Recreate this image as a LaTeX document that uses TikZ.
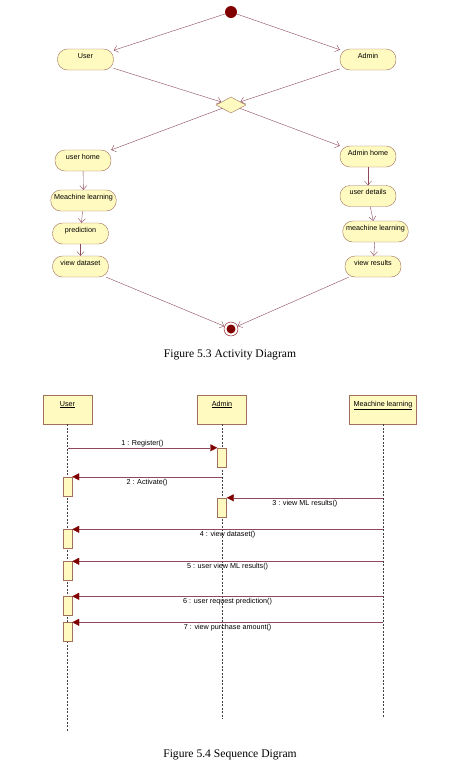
\documentclass[tikz,border=0pt]{standalone}
\usepackage{fontspec}
\setmainfont{Liberation Serif}
\setsansfont{Liberation Sans}
\usetikzlibrary{positioning,shapes.geometric,arrows.meta}
\definecolor{umlfill}{HTML}{FFFAC0}
\definecolor{umlline}{HTML}{A0705A}
\definecolor{flowline}{HTML}{8C4A5A}
\definecolor{headred}{HTML}{800000}

\begin{document}
\begin{tikzpicture}
  [x=1pt,y=-1pt,font=\sffamily\fontsize{7.2}{8}\selectfont,
   act/.style={rectangle,rounded corners=10pt,draw=umlline,fill=umlfill,minimum width=56pt,inner ysep=0pt,text height=9pt,text depth=12pt},
   flow/.style={draw=flowline,-{Straight Barb[length=4pt,width=7pt]}},
   obj/.style={rectangle,draw=umlline,fill=umlfill,minimum width=49pt,inner ysep=0pt,text height=11pt,text depth=18pt},
   bar/.style={rectangle,draw=umlline,fill=umlfill,minimum width=9pt,minimum height=19pt,inner sep=0pt},
   msg/.style={draw=flowline,-{Triangle[length=7pt,width=7pt,color=headred]}},
   life/.style={draw=black!75,dash pattern=on 2pt off 1.5pt},
   caption/.style={font=\rmfamily\fontsize{11.6}{13}\selectfont}]
  \useasboundingbox (0,0) rectangle (467,764);

  % activity diagram
  \node[circle,fill=headred,minimum size=12pt,inner sep=0pt] (start) at (231,12) {};
  \node[act] (user) at (85.5,59.5) {User};
  \node[act] (admin) at (368,59.5) {Admin};
  \node[diamond,draw=umlline,fill=umlfill,minimum width=30pt,minimum height=16pt,inner sep=0pt] (dec) at (231,105) {};
  \node[act] (uhome) at (83,160.5) {user home};
  \node[act] (ahome) at (368,156.5) {Admin home};
  \node[act,minimum width=65pt] (uml) at (83.5,200.5) {Meachine learning};
  \node[act] (adet) at (368,196) {user details};
  \node[act] (pred) at (80.5,233.5) {prediction};
  \node[act,minimum width=65pt] (aml) at (375.5,231.5) {meachine learning};
  \node[act] (vdata) at (80.5,266.5) {view dataset};
  \node[act] (vres) at (373,266.5) {view results};
  \node[circle,draw=headred,minimum size=14pt,inner sep=0pt] (stop) at (231,329) {};
  \fill[headred] (stop) circle (4.5pt);

  \draw[flow] (start) -- (user);
  \draw[flow] (start) -- (admin);
  \draw[flow] (user) -- (dec);
  \draw[flow] (admin) -- (dec);
  \draw[flow] (dec) -- (uhome);
  \draw[flow] (dec) -- (ahome);
  \draw[flow] (uhome) -- (uml);
  \draw[flow] (uml) -- (pred);
  \draw[flow] (pred) -- (vdata);
  \draw[flow] (ahome) -- (adet);
  \draw[flow] (adet) -- (aml);
  \draw[flow] (aml) -- (vres);
  \draw[flow] (vdata) -- (stop);
  \draw[flow] (vres) -- (stop);

  \node[caption] (cap1) at (230,355) {Figure 5.3 Activity Diagram};

  % sequence diagram
  \node[obj] (su) at (67.5,409.5) {\underline{User}};
  \node[obj] (sa) at (222,409.5) {\underline{Admin}};
  \node[obj,minimum width=67pt] (sm) at (383,409.5) {\underline{Meachine learning}};
  \coordinate (su end) at (67.5,732);
  \coordinate (sa end) at (222,719);
  \coordinate (sm end) at (383,718);
  \draw[life] (su) -- (su end);
  \draw[life] (sa) -- (sa end);
  \draw[life] (sm) -- (sm end);

  \node[bar] (sa1) at (222,457.5) {};
  \node[bar] (su1) at (67.5,486.5) {};
  \node[bar] (sa2) at (222,507.5) {};
  \node[bar] (su2) at (67.5,539) {};
  \node[bar] (su3) at (67.5,571) {};
  \node[bar] (su4) at (67.5,606) {};
  \node[bar] (su5) at (67.5,632) {};

  \draw[msg] (su |- sa1.north) -- node[above,inner sep=1pt] {1 : Register()} (sa1.north west);
  \draw[msg] (sa |- su1.north) -- node[below,inner sep=2pt] {2 : Activate()} (su1.north east);
  \draw[msg] (sm |- sa2.north) -- node[below,inner sep=2pt] {3 : view ML results()} (sa2.north east);
  \draw[msg] (sm |- su2.north) -- node[below,inner sep=2pt] {4 : view dataset()} (su2.north east);
  \draw[msg] (sm |- su3.north) -- node[below,inner sep=2pt] {5 : user view ML results()} (su3.north east);
  \draw[msg] (sm |- su4.north) -- node[below,inner sep=2pt] {6 : user request prediction()} (su4.north east);
  \draw[msg] (sm |- su5.north) -- node[below,inner sep=2pt] {7 : view purchase amount()} (su5.north east);

  \node[caption] (cap2) at (230,755) {Figure 5.4 Sequence Digram};
\end{tikzpicture}
\end{document}
